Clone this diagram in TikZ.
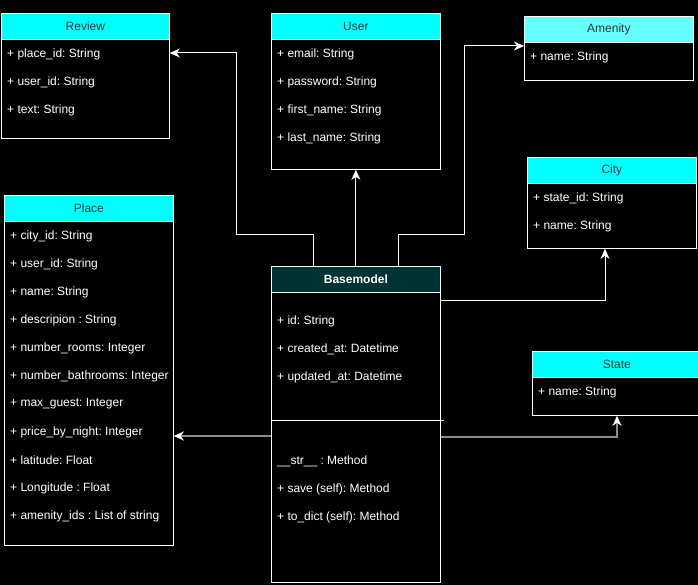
\documentclass[tikz,border=0pt]{standalone}
\usepackage{fontspec}
\setmainfont{Liberation Sans}
\frenchspacing
\usepackage{tikz}
\usetikzlibrary{arrows.meta}
\definecolor{headcyan}{RGB}{0,255,255}
\definecolor{headlight}{RGB}{102,255,255}
\definecolor{headdark}{RGB}{0,51,51}
\definecolor{headtext}{RGB}{35,55,55}
\definecolor{linkgray}{RGB}{140,140,140}
\tikzstyle{head}=[draw=white,line width=.8pt,fill=headcyan,text=headtext,anchor=north west,inner sep=0pt,minimum height=26pt,font=\fontsize{12}{14}\selectfont]
\tikzstyle{body}=[draw=white,line width=.8pt,fill=black,anchor=north west,inner sep=0pt]
\tikzstyle{attr}=[anchor=west,text=white,inner sep=0pt,font=\fontsize{12}{14}\selectfont]
\tikzstyle{link}=[draw=white,line width=1pt,-{Stealth[length=10pt,width=9pt,inset=3pt,color=white]}]

\begin{document}
\begin{tikzpicture}[x=1pt,y=-1pt]
  \useasboundingbox (0,0) rectangle (698,585);
  \fill[black] (0,0) rectangle (698,585);

  % Review
  \node[body,minimum width=168pt,minimum height=99pt] (review) at (1,39) {};
  \node[head,minimum width=168pt] (reviewh) at (1,13) {Review};
  \foreach \t [count=\i] in {+ place\_id: String, + user\_id: String, + text: String}{
    \node[attr] (review-\i) at (7,{54+28*(\i-1)}) {\t};
  }

  % User
  \node[body,minimum width=169pt,minimum height=130pt] (user) at (271,39) {};
  \node[head,minimum width=169pt] (userh) at (271,13) {User};
  \foreach \t [count=\i] in {+ email: String, + password: String, + first\_name: String, + last\_name: String}{
    \node[attr] (user-\i) at (277,{54+28*(\i-1)}) {\t};
  }

  % Amenity
  \node[body,minimum width=169pt,minimum height=38pt] (amenity) at (524,42) {};
  \node[head,fill=headlight,minimum width=169pt] (amenityh) at (524,16) {Amenity};
  \node[attr] (amenity-1) at (530,57) {+ name: String};

  % City
  \node[body,minimum width=169pt,minimum height=65pt] (city) at (527,183) {};
  \node[head,minimum width=169pt] (cityh) at (527,157) {City};
  \foreach \t [count=\i] in {+ state\_id: String, + name: String}{
    \node[attr] (city-\i) at (533,{198+28*(\i-1)}) {\t};
  }

  % Place
  \node[body,minimum width=169pt,minimum height=324pt] (place) at (4,221) {};
  \node[head,minimum width=169pt] (placeh) at (4,195) {Place};
  \foreach \t [count=\i] in {+ city\_id: String, + user\_id: String, + name: String,
      + descripion : String, + number\_rooms: Integer, + number\_bathrooms: Integer,
      + max\_guest: Integer, + price\_by\_night: Integer, + latitude: Float,
      + Longitude : Float, + amenity\_ids : List of string}{
    \node[attr] (place-\i) at (10,{236+28*(\i-1)}) {\t};
  }

  % State
  \node[body,minimum width=169pt,minimum height=38pt] (state) at (532,377) {};
  \node[head,minimum width=169pt] (stateh) at (532,351) {State};
  \node[attr] (state-1) at (538,392) {+ name: String};

  % Basemodel
  \node[body,minimum width=169pt,minimum height=290pt] (base) at (271,292) {};
  \node[head,fill=headdark,text=white,font=\fontsize{12}{14}\selectfont\bfseries,minimum width=169pt] (baseh) at (271,266) {Basemodel};
  \foreach \t [count=\i] in {+ id: String, + created\_at: Datetime, + updated\_at: Datetime}{
    \node[attr] (base-\i) at (277,{321+28*(\i-1)}) {\t};
  }
  \draw[white,line width=.8pt] (base.west |- 0,420) -- ([xshift=3pt]base.east |- 0,420);
  \foreach \t [count=\i] in {\_\_str\_\_ : Method, + save (self): Method, + to\_dict (self): Method}{
    \node[attr] (meth-\i) at (277,{461+28*(\i-1)}) {\t};
  }

  % links
  \draw[link] ([xshift=-42.5pt]baseh.north) |- (236,235) |- (review.east |- 0,53);
  \draw[link] (baseh.north) -- (user.south);
  \draw[link] ([xshift=42.5pt]baseh.north) |- (464,235) |- (amenity.west |- 0,46);
  \draw[link] (base.east |- 0,300) -| (city.south -| 605,0);
  \draw[link,draw=linkgray,line width=1.5pt] (base.west |- 0,436) -- (place.east |- 0,436);
  \draw[link,draw=linkgray,line width=1.5pt] (base.east |- 0,437) -| (state.south -| 617,0);
\end{tikzpicture}
\end{document}
